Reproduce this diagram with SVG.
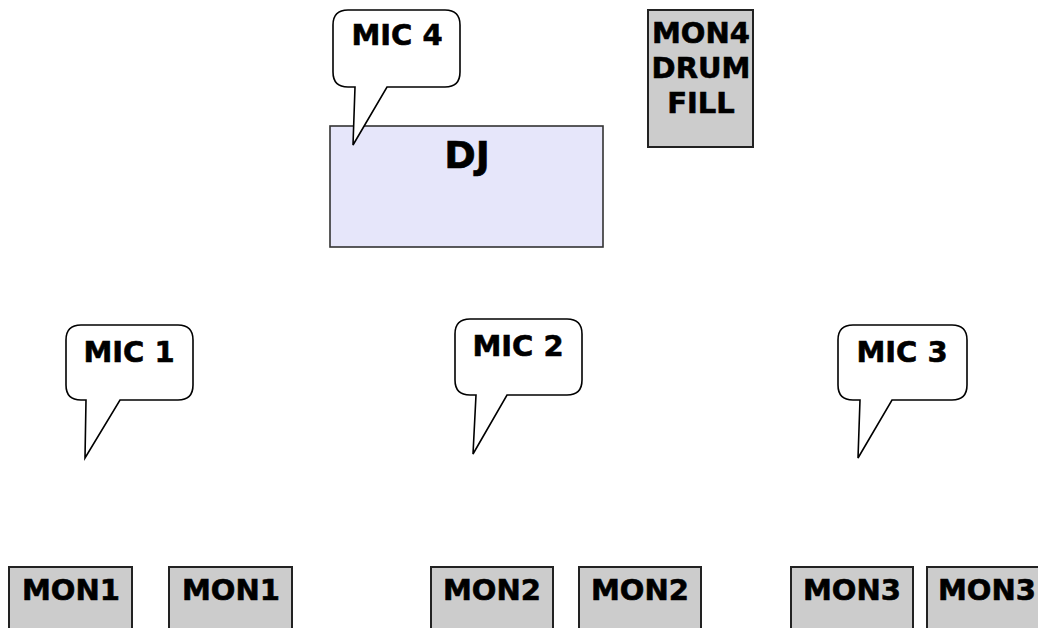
<svg xmlns="http://www.w3.org/2000/svg" width="1038" height="628" viewBox="0 0 1038 628">
<style>
  text { font-family: "DejaVu Sans", Verdana, sans-serif; font-weight: bold; fill: #000; stroke: #000; stroke-width: 0.6; text-anchor: middle; }
  .mic { fill: #fff; stroke: #000; stroke-width: 1.6; }
  .mon { fill: #cccccc; stroke: #222; stroke-width: 2; }
  .dj { fill: #e6e6fa; stroke: #333; stroke-width: 1.6; }
  .t28 { font-size: 29px; }
  .t36 { font-size: 38px; }
</style>
<rect width="1038" height="628" fill="#fff"/>
<g id="dj">
  <rect class="dj" x="330" y="126" width="273" height="121"/>
  <text class="t36" x="467" y="168">DJ</text>
</g>
<g id="mic4">
  <path class="mic" d="M348,10 H445 Q460,10 460,25 V72 Q460,87 445,87 H387 L353,145 L355,87 H348 Q333,87 333,72 V25 Q333,10 348,10 Z"/>
  <text class="t28" x="397" y="45">MIC 4</text>
</g>
<g id="mon4">
  <rect class="mon" x="648" y="10" width="105" height="137"/>
  <text class="t28" x="701" y="43">MON4</text>
  <text class="t28" x="701" y="78">DRUM</text>
  <text class="t28" x="701" y="113">FILL</text>
</g>
<g id="mic1">
  <path class="mic" d="M81,325 H178 Q193,325 193,340 V385 Q193,400 178,400 H120 L85,458 L86,400 H81 Q66,400 66,385 V340 Q66,325 81,325 Z"/>
  <text class="t28" x="129" y="362">MIC 1</text>
</g>
<g id="mic2">
  <path class="mic" d="M470,319 H567 Q582,319 582,334 V380 Q582,395 567,395 H507 L473,454 L476,395 H470 Q455,395 455,380 V334 Q455,319 470,319 Z"/>
  <text class="t28" x="518" y="356">MIC 2</text>
</g>
<g id="mic3">
  <path class="mic" d="M853,325 H952 Q967,325 967,340 V385 Q967,400 952,400 H892 L858,458 L860,400 H853 Q838,400 838,385 V340 Q838,325 853,325 Z"/>
  <text class="t28" x="902" y="362">MIC 3</text>
</g>
<g id="mon1a">
  <rect class="mon" x="9" y="567" width="123" height="80"/>
  <text class="t28" x="71" y="600">MON1</text>
</g>
<g id="mon1b">
  <rect class="mon" x="169" y="567" width="123" height="80"/>
  <text class="t28" x="231" y="600">MON1</text>
</g>
<g id="mon2a">
  <rect class="mon" x="431" y="567" width="122" height="80"/>
  <text class="t28" x="492" y="600">MON2</text>
</g>
<g id="mon2b">
  <rect class="mon" x="579" y="567" width="122" height="80"/>
  <text class="t28" x="640" y="600">MON2</text>
</g>
<g id="mon3a">
  <rect class="mon" x="791" y="567" width="122" height="80"/>
  <text class="t28" x="852" y="600">MON3</text>
</g>
<g id="mon3b">
  <rect class="mon" x="927" y="567" width="122" height="80"/>
  <text class="t28" x="987" y="600">MON3</text>
</g>
<g id="connectors"></g>
</svg>
